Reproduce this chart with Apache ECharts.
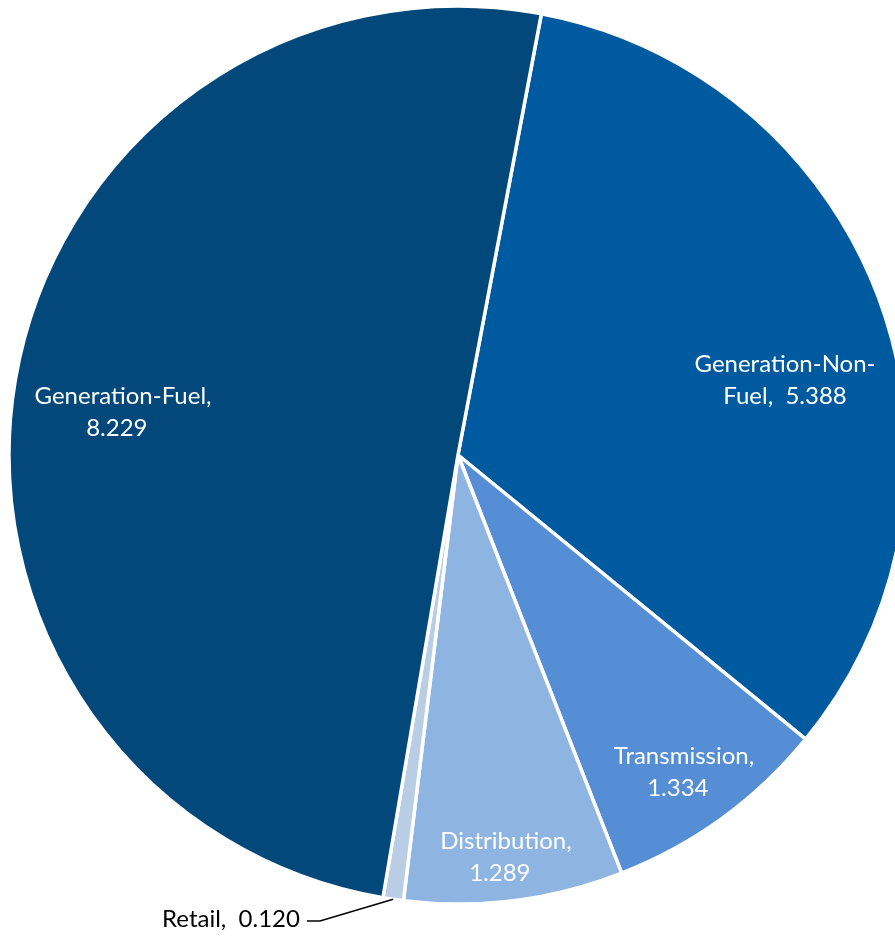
<!DOCTYPE html>
<html>
<head>
<meta charset="utf-8">
<script src="https://cdn.jsdelivr.net/npm/echarts@6/dist/echarts.min.js"></script>
<style>
  html, body { margin: 0; padding: 0; background: #ffffff; }
  #chart { width: 895px; height: 936px; }
</style>
</head>
<body>
<div id="chart"></div>
<script>
// ---- data ----
const categories = ['Generation-Non-Fuel', 'Transmission', 'Distribution', 'Retail', 'Generation-Fuel'];
const values = [5.388, 1.334, 1.289, 0.120, 8.229];
const colors = ['#005A9F', '#558ED5', '#8EB4E2', '#B9CDE5', '#03487B'];

// ---- layout ----
const CX = 458, CY = 455, R = 449;
const START = 79.3;
const FONT = 'Lato';
const FS = 24;

function labelText(name, v) {
  const val = v.toFixed(3);
  if (name === 'Generation-Non-Fuel') return 'Generation-Non-\nFuel,  ' + val;
  if (name === 'Retail') return name + ',  ' + val;
  return name + ',\n' + val + '  ';
}

// label centers (text block) per category
const labelPos = {
  'Generation-Non-Fuel': [785, 380],
  'Transmission': [684, 772],
  'Distribution': [506, 857],
  'Retail': [231, 919],
  'Generation-Fuel': [123, 412]
};

const total = values.reduce((a, b) => a + b, 0);
function midAngleOf(idx) {
  let cum = 0;
  for (let i = 0; i < idx; i++) cum += values[i];
  const mid = cum + values[idx] / 2;
  return (90 - START) + mid / total * 360; // degrees clockwise from 12 o'clock
}

const chart = echarts.init(document.getElementById('chart'), null, { renderer: 'canvas' });
chart.setOption({
  animation: false,
  backgroundColor: '#ffffff',
  series: [{
    type: 'pie',
    center: [CX, CY],
    radius: R,
    startAngle: START,
    clockwise: true,
    avoidLabelOverlap: false,
    itemStyle: { borderColor: '#ffffff', borderWidth: 3.5 },
    label: {
      show: true,
      position: 'inside',
      color: '#ffffff',
      fontFamily: FONT,
      fontSize: FS,
      lineHeight: 32,
      align: 'center',
      verticalAlign: 'middle',
      formatter: p => labelText(p.name, p.value)
    },
    labelLine: { show: false },
    labelLayout: function (params) {
      const name = categories[params.dataIndex];
      const pos = labelPos[name];
      const out = { x: pos[0], y: pos[1], align: 'center', verticalAlign: 'middle' };
      return out;
    },
    data: categories.map((c, i) => {
      const d = { name: c, value: values[i], itemStyle: { color: colors[i] } };
      if (c === 'Retail') {
        d.label = { position: 'outside', color: '#000000' };
        d.labelLine = { show: true };
      }
      return d;
    })
  }]
});

// leader line for Retail drawn via graphic, anchored to slice edge from data geometry
const ri = categories.indexOf('Retail');
const a = midAngleOf(ri) * Math.PI / 180;
const ex = CX + Math.sin(a) * R, ey = CY - Math.cos(a) * R;
const rp = labelPos['Retail'];
chart.setOption({
  series: [{ labelLine: { show: false }, data: categories.map((c, i) => ({ name: c, value: values[i], itemStyle: { color: colors[i] }, label: c === 'Retail' ? { position: 'outside', color: '#000000' } : undefined })) }],
  graphic: [{
    type: 'polyline',
    shape: { points: [[ex, ey], [rp[0] + 89, rp[1] + 2], [rp[0] + 76, rp[1] + 2]] },
    style: { stroke: '#000000', lineWidth: 1.5, fill: null },
    z: 10
  }]
});
</script>
</body>
</html>
